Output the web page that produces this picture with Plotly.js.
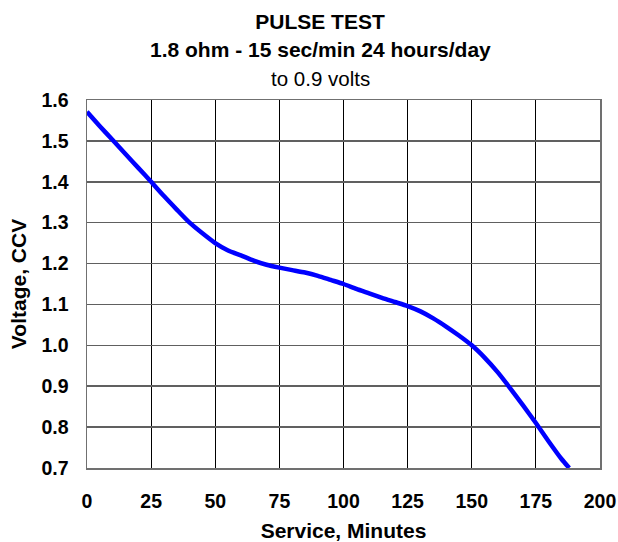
<!DOCTYPE html>
<html>
<head>
<meta charset="utf-8">
<script src="https://cdn.plot.ly/plotly-3.0.1.min.js"></script>
<style>html,body{margin:0;padding:0;background:#fff;}#chart{width:618px;height:542px;}</style>
</head>
<body>
<div id="chart"></div>
<script>
var minutes = [0, 5, 10, 15, 20, 25, 30, 35, 40, 45, 50, 55, 60, 65, 70, 75, 80, 85, 90, 95, 100, 105, 110, 115, 120, 125, 130, 135, 140, 145, 150, 155, 160, 165, 170, 175, 180, 185, 188];
var voltage = [1.571, 1.536, 1.502, 1.468, 1.434, 1.40, 1.365, 1.332, 1.30, 1.274, 1.25, 1.232, 1.22, 1.207, 1.197, 1.19, 1.184, 1.178, 1.17, 1.16, 1.15, 1.138, 1.127, 1.116, 1.106, 1.096, 1.083, 1.066, 1.046, 1.024, 1.0, 0.97, 0.935, 0.895, 0.853, 0.81, 0.765, 0.722, 0.70];
var xTicks = [0, 25, 50, 75, 100, 125, 150, 175, 200];
var yTicks = [0.7, 0.8, 0.9, 1.0, 1.1, 1.2, 1.3, 1.4, 1.5, 1.6];
var yTickText = ['0.7', '0.8', '0.9', '1.0', '1.1', '1.2', '1.3', '1.4', '1.5', '1.6'];
var titleLine1 = 'PULSE TEST';
var titleLine2 = '1.8 ohm - 15 sec/min 24 hours/day';
var titleLine3 = 'to 0.9 volts';

var F = 'Liberation Sans, Arial, sans-serif';
var trace = {
  x: minutes, y: voltage, type: 'scatter', mode: 'lines',
  line: {color: '#0000FF', width: 4.5, shape: 'spline', smoothing: 0.6},
  hoverinfo: 'skip'
};
var layout = {
  width: 618, height: 542,
  margin: {l: 87, r: 18, t: 100, b: 74},
  paper_bgcolor: '#fff', plot_bgcolor: '#fff',
  showlegend: false,
  title: {text: '<b>' + titleLine1 + '</b>', x: 320/618, xref: 'container', xanchor: 'center', y: 1 - 22/542, yanchor: 'middle', yref: 'container',
          font: {family: F, size: 21, color: '#000'}},
  annotations: [
    {text: '<b>' + titleLine2 + '</b>', xref: 'paper', yref: 'paper', x: (320-87)/513, y: (468-50)/368, xanchor: 'center', yanchor: 'middle', showarrow: false,
     font: {family: F, size: 21, color: '#000'}},
    {text: titleLine3, xref: 'paper', yref: 'paper', x: (320-87)/513, y: (468-78)/368, xanchor: 'center', yanchor: 'middle', showarrow: false,
     font: {family: F, size: 20.5, color: '#000'}}
  ],
  xaxis: {
    range: [0, 200], tickmode: 'array', tickvals: xTicks,
    ticktext: xTicks.map(function(t){return '<b>'+t+'</b>';}),
    showgrid: true, gridcolor: '#000', gridwidth: 1,
    showline: true, mirror: true, linecolor: '#707070', linewidth: 1.5,
    ticks: '', ticklabelstandoff: 15, zeroline: false,
    tickfont: {family: F, size: 19.5, color: '#000'},
    title: {text: '<b>Service, Minutes</b>', standoff: 13, font: {family: F, size: 21, color: '#000'}},
    fixedrange: true
  },
  yaxis: {
    range: [0.7, 1.6], tickmode: 'array', tickvals: yTicks,
    ticktext: yTickText.map(function(t){return '<b>'+t+'</b>';}),
    showgrid: true, gridcolor: '#606060', gridwidth: 1.5,
    showline: true, mirror: true, linecolor: '#707070', linewidth: 1.5,
    ticks: '', ticklabelstandoff: 13, zeroline: false,
    tickfont: {family: F, size: 19.5, color: '#000'},
    title: {text: '<b>Voltage, CCV</b>', standoff: 9, font: {family: F, size: 21, color: '#000'}},
    fixedrange: true
  }
};
Plotly.newPlot('chart', [trace], layout, {displayModeBar: false, staticPlot: true});
</script>
</body>
</html>
